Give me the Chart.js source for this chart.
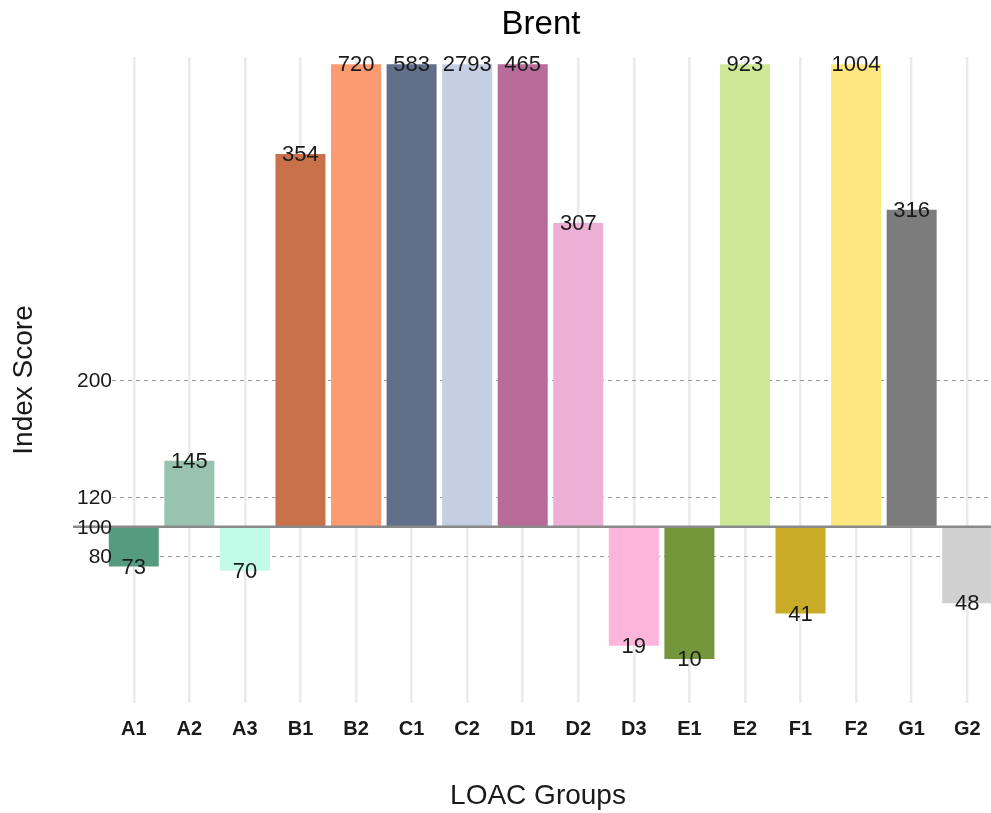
<!DOCTYPE html>
<html>
<head>
<meta charset="utf-8">
<script src="https://cdn.jsdelivr.net/npm/chart.js@4/dist/chart.umd.min.js"></script>
<style>
  html, body { margin: 0; padding: 0; background: #fff; overflow: hidden; }
  #chart { display: block; }
</style>
</head>
<body>
<canvas id="chart" width="995" height="813"></canvas>
<script>
// ---- data ----
const groups = ['A1', 'A2', 'A3', 'B1', 'B2', 'C1', 'C2', 'D1', 'D2', 'D3', 'E1', 'E2', 'F1', 'F2', 'G1', 'G2'];
const scores = [73, 145, 70, 354, 720, 583, 2793, 465, 307, 19, 10, 923, 41, 1004, 316, 48];
const groupColors = ['#549b81', '#97c3b0', '#c2fbe7', '#c8714a', '#fc9a72', '#616f8b', '#c5cfe3', '#b86b99',
  '#ecafd5', '#feb5db', '#75973c', '#cde897', '#cbac29', '#fee680', '#7c7c7c', '#d0d0d0'];
const yTicks = [80, 100, 120, 200];
const dashedLines = [80, 120, 200];
const baseline = 100;
const yMin = -20;
const yMax = 420;
const barCap = 415; // bars above this get squished to the top of the panel

const FONT = "'Liberation Sans', Arial, Helvetica, sans-serif";

/* ====== custom drawing: dashed refs, baseline, labels, titles ====== */
const refLines = {
  id: 'refLines',
  beforeDatasetsDraw(chart) {
    const { ctx, chartArea, scales: { y } } = chart;
    ctx.save();
    ctx.strokeStyle = '#9a9a9a';
    ctx.lineWidth = 1;
    ctx.setLineDash([4, 4]);
    dashedLines.forEach(v => {
      const py = Math.round(y.getPixelForValue(v)) + 0.5;
      ctx.beginPath();
      ctx.moveTo(chartArea.left + 6, py);
      ctx.lineTo(chartArea.right, py);
      ctx.stroke();
    });
    ctx.restore();
  },
  afterDatasetsDraw(chart) {
    const { ctx, chartArea, scales: { y } } = chart;
    ctx.save();
    // the 100 line sits on top of the bars
    const py = y.getPixelForValue(baseline);
    ctx.strokeStyle = '#8a8a8a';
    ctx.lineWidth = 2.5;
    ctx.beginPath();
    ctx.moveTo(73, py);
    ctx.lineTo(chartArea.right, py);
    ctx.stroke();

    // y tick labels (drawn by hand so they can touch the panel edge)
    ctx.fillStyle = '#1a1a1a';
    ctx.font = `21px ${FONT}`;
    ctx.textAlign = 'right';
    ctx.textBaseline = 'middle';
    yTicks.forEach(v => {
      ctx.fillText(String(v), 112, y.getPixelForValue(v) + 1);
    });

    // value labels centred on the bar end
    ctx.font = `22px ${FONT}`;
    ctx.textAlign = 'center';
    chart.getDatasetMeta(0).data.forEach((bar, i) => {
      const end = y.getPixelForValue(Math.min(scores[i], barCap));
      ctx.fillText(String(scores[i]), bar.x, end + 1);
    });

    // titles
    ctx.fillStyle = '#000';
    ctx.font = `33px ${FONT}`;
    ctx.fillText('Brent', 541, 25);
    ctx.fillStyle = '#1a1a1a';
    ctx.font = `28px ${FONT}`;
    ctx.fillText('LOAC Groups', 538, 796);
    ctx.restore();
  }
};

const ctx = document.getElementById('chart').getContext('2d');
new Chart(ctx, {
  type: 'bar',
  data: {
    labels: groups,
    datasets: [{
      data: scores.map(v => [baseline, Math.min(v, barCap)]),
      backgroundColor: groupColors,
      borderWidth: 0,
      barPercentage: 0.9,
      categoryPercentage: 1
    }]
  },
  options: {
    responsive: false,
    animation: false,
    layout: { padding: { top: 57, left: 0, right: 0, bottom: 0 } },
    plugins: {
      legend: { display: false },
      tooltip: { enabled: false },
      title: { display: false }
    },
    scales: {
      x: {
        offset: true,
        grid: { offset: false, color: '#ebebeb', lineWidth: 2.5, drawTicks: false },
        border: { display: false },
        ticks: { color: '#1a1a1a', font: { family: FONT, size: 20, weight: 'bold' }, padding: 14 },
        afterFit(scale) { scale.height = 110; }
      },
      y: {
        min: yMin,
        max: yMax,
        grid: { display: false, drawTicks: false },
        border: { display: false },
        afterBuildTicks(scale) { scale.ticks = yTicks.map(v => ({ value: v })); },
        ticks: { display: false },
        title: {
          display: true,
          text: 'Index Score',
          color: '#1a1a1a',
          font: { family: FONT, size: 28 },
          padding: { top: 7, bottom: 0 }
        },
        afterFit(scale) { scale.width = 106; }
      }
    }
  },
  plugins: [refLines]
});
</script>
</body>
</html>
